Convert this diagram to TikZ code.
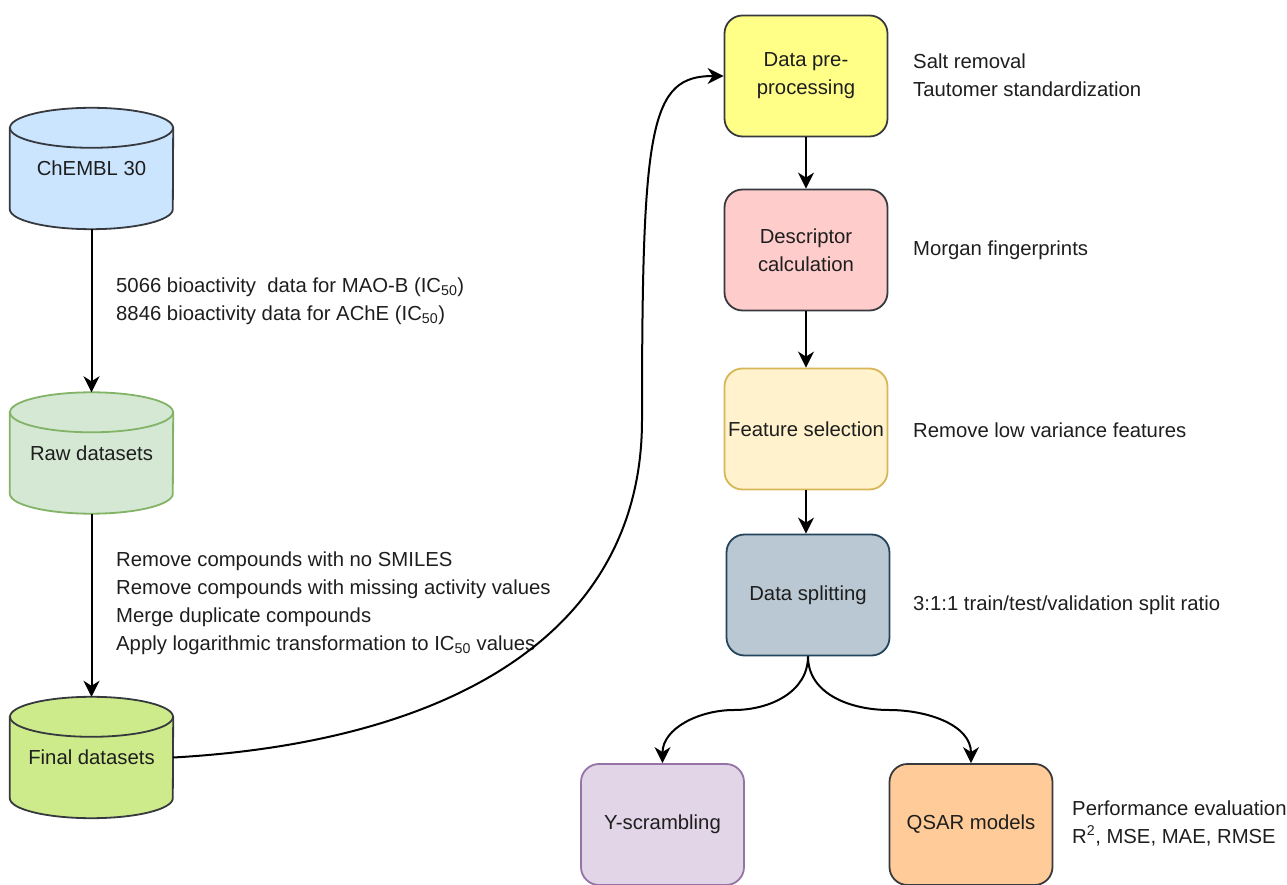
\documentclass[tikz,border=0pt]{standalone}
\usepackage{fontspec}
\setmainfont{Liberation Sans}
\usetikzlibrary{arrows.meta,calc,backgrounds}
\definecolor{textc}{HTML}{1E1E1E}
\definecolor{darkst}{HTML}{36393D}
\definecolor{chemf}{HTML}{CCE5FF}
\definecolor{rawf}{HTML}{D5E8D4}
\definecolor{raws}{HTML}{82B366}
\definecolor{finf}{HTML}{CDEB8B}
\definecolor{pref}{HTML}{FFFF88}
\definecolor{descf}{HTML}{FFCCCC}
\definecolor{featf}{HTML}{FFF2CC}
\definecolor{feats}{HTML}{D6B656}
\definecolor{splf}{HTML}{BAC8D3}
\definecolor{spls}{HTML}{23445D}
\definecolor{yscf}{HTML}{E1D5E7}
\definecolor{yscs}{HTML}{9673A6}
\definecolor{qsarf}{HTML}{FFCC99}
\tikzset{
  txt/.style={font=\fontsize{20.3}{28}\selectfont, text=textc},
  cylnode/.style={txt, minimum width=163pt, minimum height=121pt, inner sep=0pt},
  stepbox/.style={txt, draw, rounded corners=18pt, minimum width=163pt, minimum height=121pt, line width=1.8pt, align=center, inner sep=2pt},
  lbl/.style={txt, anchor=west, align=left, inner sep=0pt},
  arr/.style={line width=2pt, -{Stealth[length=16pt,width=16pt,inset=5pt]}, draw=black},
}
\newcommand\drawcyl[3]{%
  \path[fill=#2, draw=#3, line width=1.8pt] ($(#1.north west)+(0,-20pt)$) -- ($(#1.south west)+(0,20pt)$) arc[start angle=180,end angle=360,x radius=81.5pt,y radius=20pt] -- ($(#1.north east)+(0,-20pt)$) -- cycle;
  \path[fill=#2, draw=#3, line width=1.8pt] ($(#1.north)+(0,-20pt)$) ellipse[x radius=81.5pt, y radius=20pt];
}
\begin{document}
\begin{tikzpicture}[x=1pt,y=1pt]
\useasboundingbox (0,0) rectangle (1287,884);
% cylinders
\node[cylnode] (chembl) at (91.5,715.5) {ChEMBL 30};
\node[cylnode] (raw) at (91.5,431) {Raw datasets};
\node[cylnode] (final) at (91.5,126.5) {Final datasets};
\begin{scope}[on background layer]
\drawcyl{chembl}{chemf}{darkst}
\drawcyl{raw}{rawf}{raws}
\drawcyl{final}{finf}{darkst}
\end{scope}
% boxes
\node[stepbox, fill=pref, draw=darkst] (pre) at (806,808) {Data pre-\\processing};
\node[stepbox, fill=descf, draw=darkst] (desc) at (806,634) {Descriptor\\calculation};
\node[stepbox, fill=featf, draw=feats] (feat) at (806,455) {Feature selection};
\node[stepbox, fill=splf, draw=spls] (split) at (808,289) {Data splitting};
\node[stepbox, fill=yscf, draw=yscs] (ysc) at (662.5,59.5) {Y-scrambling};
\node[stepbox, fill=qsarf, draw=darkst] (qsar) at (971,59.5) {QSAR models};
% labels
\node[lbl] (l1) at (116,582.5) {5066 bioactivity\ \ data for MAO-B (IC\textsubscript{50})\\8846 bioactivity data for AChE (IC\textsubscript{50})};
\node[lbl] (l2) at (116,281) {Remove compounds with no SMILES\\Remove compounds with missing activity values\\Merge duplicate compounds\\Apply logarithmic transformation to IC\textsubscript{50} values};
\node[lbl] (l3) at (913,809) {Salt removal\\Tautomer standardization};
\node[lbl] (l4) at (913,634) {Morgan fingerprints};
\node[lbl] (l5) at (913,454) {Remove low variance features};
\node[lbl] (l6) at (913,279) {3:1:1 train/test/validation split ratio};
\node[lbl] (l7) at (1072,61) {Performance evaluation\\R\textsuperscript{2}, MSE, MAE, RMSE};
% connectors
\draw[arr] (chembl) -- (raw);
\draw[arr] (raw) -- (final);
\draw[arr] (pre) -- (desc);
\draw[arr] (desc) -- (feat);
\draw[arr] (feat.south) -- (feat.south |- split.north);
\draw[arr] (final.east) .. controls (450,142) and (642,250) .. (642,464) .. controls (642,760) and (650,808) .. (pre.west);
\coordinate (forkL) at (734,174);
\coordinate (forkR) at (889,174);
\draw[arr] (split.south) to[out=-90,in=0] (forkL) to[out=180,in=90] (ysc.north);
\draw[arr] (split.south) to[out=-90,in=180] (forkR) to[out=0,in=90] (qsar.north);
\end{tikzpicture}
\end{document}
